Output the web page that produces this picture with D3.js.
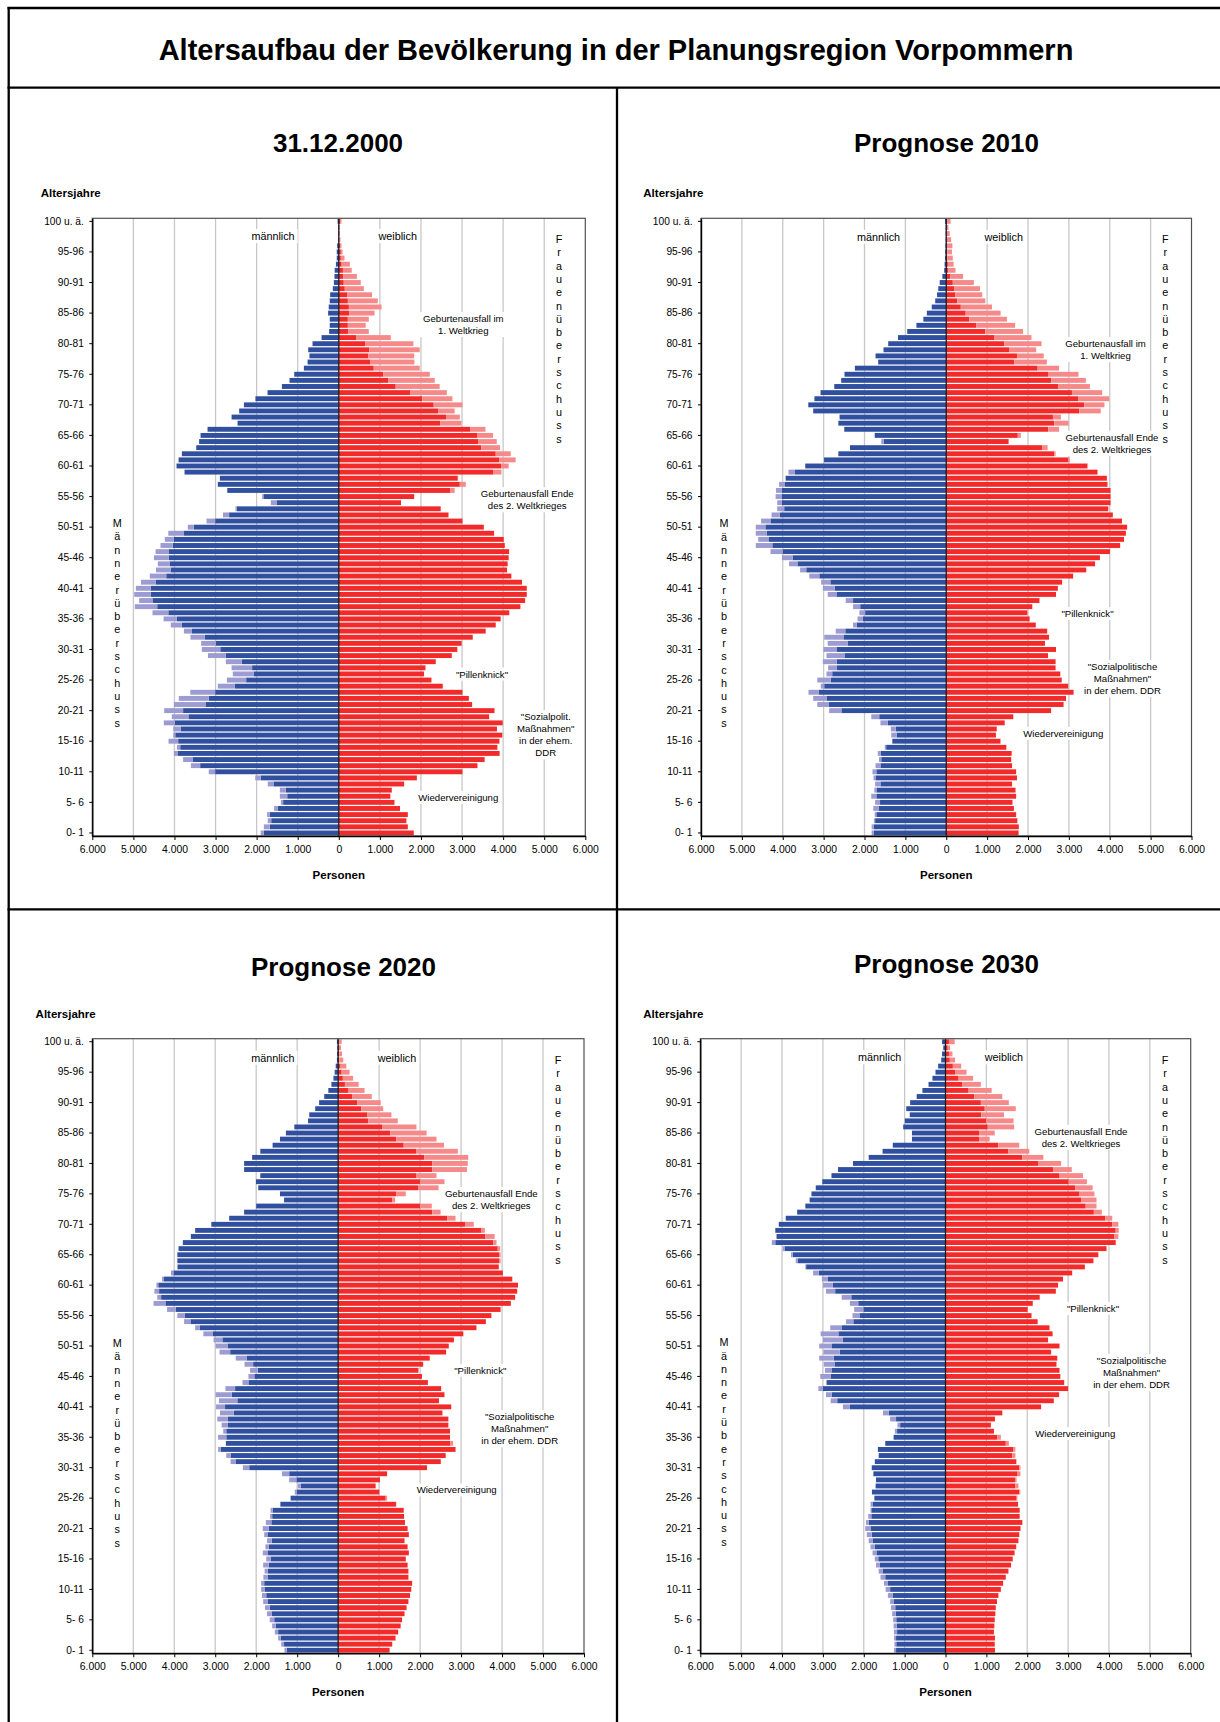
<!DOCTYPE html>
<html><head><meta charset="utf-8">
<script src="https://cdn.jsdelivr.net/npm/d3@7"></script>
<style>body{margin:0;background:#fff}svg{display:block}</style>
</head><body>
<svg id="c" width="1220" height="1722"></svg>
<script>
// ---------- DATA (index = age 0 … 100, "100" = 100 und älter) ----------
const ageTickValues = [100,95,90,85,80,75,70,65,60,55,50,45,40,35,30,25,20,15,10,5,0];
const ageLabels = ["100 u. ä.","95-96","90-91","85-86","80-81","75-76","70-71","65-66","60-61","55-56","50-51","45-46","40-41","35-36","30-31","25-26","20-21","15-16","10-11","5- 6","0- 1"];
const xTickValues = [-6000,-5000,-4000,-3000,-2000,-1000,0,1000,2000,3000,4000,5000,6000];
const xTickLabels = ["6.000","5.000","4.000","3.000","2.000","1.000","0","1.000","2.000","3.000","4.000","5.000","6.000"];

const male2000 = [1900,1825,1730,1745,1575,1410,1435,1435,1730,2035,3165,3600,3790,4015,3940,4145,4030,4030,4260,4065,4250,4015,3895,3615,2945,2725,2580,2610,2750,3185,3335,3350,3610,3770,4090,4265,4535,4965,4860,4980,4940,4815,4600,4450,4405,4500,4460,4340,4235,4150,3675,3220,2820,2515,1655,1865,2715,2945,2895,3755,3950,3900,3820,3470,3400,3365,3195,2465,2610,2425,2310,2030,1735,1385,1200,1085,850,760,715,745,640,420,235,220,220,260,245,220,210,145,120,105,100,70,50,50,40,15,10,10,30];
const female2000 = [1825,1680,1645,1680,1490,1355,1255,1290,1590,1900,3010,3375,3550,3915,3860,3910,3980,3850,3990,3660,3790,3245,3165,3010,2530,2255,2075,2110,2360,2750,2885,2990,3260,3575,3820,3940,4150,4420,4535,4575,4575,4460,4200,4095,4110,4135,4145,4040,4015,3780,3530,3010,2670,2480,1515,1835,2820,3090,2905,3960,4135,4305,4185,3925,3845,3755,3570,2985,2945,2820,3010,2765,2630,2455,2335,2215,1970,1840,1835,1970,1815,1265,730,655,730,870,1040,950,810,610,535,440,315,270,138,90,65,40,30,30,65];

const male2010 = [1825,1825,1770,1750,1785,1740,1835,1760,1740,1780,1805,1730,1645,1675,1505,1320,1345,1355,1610,1835,2865,3155,3255,3370,3070,3155,2930,2890,3020,2930,3005,2900,2985,2705,2280,2170,2125,2280,2460,2900,3020,3060,3350,3575,3845,4020,4300,4660,4600,4660,4660,4530,4275,4135,4135,4175,4165,4090,3930,3860,3450,2990,2640,2355,1590,1750,2495,2640,2610,3255,3375,3225,3075,2740,2570,2490,2235,1665,1730,1535,1420,1180,955,730,560,475,355,270,225,195,160,95,50,40,30,25,20,15,15,15,30];
const female2010 = [1770,1775,1740,1710,1655,1620,1710,1695,1610,1730,1710,1610,1590,1600,1470,1340,1215,1235,1430,1640,2565,2870,2930,3115,2985,2825,2790,2675,2675,2490,2685,2415,2515,2470,2190,2040,1985,2105,2280,2685,2730,2835,3105,3425,3640,3760,4005,4255,4350,4395,4425,4300,4075,3965,4020,4020,4020,3945,3935,3700,3470,3020,2675,2480,1525,1825,2760,2995,2805,3780,3870,3985,3815,3515,3415,3235,2760,2460,2385,2200,2330,2085,1880,1685,1485,1330,1120,955,880,825,675,410,225,180,160,140,150,120,85,55,105];

const male2020 = [1310,1390,1465,1545,1610,1670,1735,1785,1830,1860,1880,1880,1825,1795,1830,1755,1840,1775,1735,1805,1840,1765,1660,1650,1410,1160,1060,985,1195,1370,2325,2625,2730,2930,2740,2930,2805,2845,2950,2885,2980,2910,2990,2750,2335,2190,2150,2285,2500,2895,2990,3040,3290,3490,3760,3925,4175,4505,4415,4485,4435,4300,4080,3930,3925,3925,3895,3790,3595,3490,3095,2660,2295,2000,1320,1420,1950,2005,1900,2295,2295,2100,1900,1600,1420,1275,1070,735,705,560,465,340,240,165,115,85,60,30,25,20,30];
const female2020 = [1255,1320,1400,1465,1525,1560,1620,1670,1715,1755,1785,1805,1715,1715,1695,1650,1725,1695,1620,1725,1695,1630,1610,1600,1420,1195,1005,915,1020,1195,2170,2505,2625,2865,2805,2730,2730,2690,2690,2545,2760,2460,2595,2515,2190,2045,1960,2075,2235,2635,2700,2825,3055,3375,3605,3740,3965,4215,4320,4370,4390,4250,4020,3920,3965,3965,3955,3865,3820,3580,3310,2865,2500,2285,1390,1650,2450,2595,2400,3145,3165,3175,2920,2585,2400,2160,1910,1455,1300,1100,1040,820,645,500,365,280,200,125,95,70,85];

const male2030 = [1260,1250,1260,1260,1270,1280,1305,1335,1355,1410,1465,1505,1590,1635,1700,1730,1785,1835,1880,1925,1965,1945,1890,1835,1835,1740,1800,1710,1700,1765,1805,1730,1635,1655,1475,1270,1240,1175,1355,1530,2510,2810,2925,3110,2925,3065,2950,2980,3090,2990,3090,3000,3055,2820,2435,2275,2235,2340,2540,2925,3000,3025,3240,3430,3665,3780,3985,4250,4135,4165,4080,3910,3630,3430,3325,3280,3175,3015,2790,2630,2265,1880,1540,1290,820,820,1035,995,875,960,865,705,565,415,320,245,180,105,85,55,85];
const female2030 = [1210,1205,1210,1185,1195,1205,1220,1230,1260,1295,1355,1410,1475,1540,1605,1645,1690,1730,1785,1805,1835,1880,1815,1815,1775,1760,1830,1785,1740,1835,1835,1740,1710,1710,1550,1355,1185,1110,1210,1390,2340,2650,2780,3000,2905,2810,2790,2715,2735,2585,2790,2510,2620,2545,2255,2105,2010,2135,2305,2700,2755,2875,3100,3410,3620,3740,3940,4165,4230,4240,4230,4080,3825,3695,3695,3645,3600,3460,3365,3090,2830,2395,2050,1805,1080,1205,1680,1665,1430,1720,1550,1390,1130,865,675,515,385,235,170,115,225];

// ---------- LAYOUT ----------
const FONT = '"Liberation Sans", Arial, Helvetica, sans-serif';
const COL = {blue:"#30509f", lilac:"#9c9cd2", red:"#f22a2a", pink:"#f68a8a", grid:"#c8c8c8"};
const ages = d3.range(100, -1, -1);

const panels = [
  {title:"31.12.2000", tx:338, ty:152, male:male2000, female:female2000,
   x0:92.3, x1:585.3, y0:218.3, y1:836, altX:40.7, altY:196.5,
   mw:[273,397.7,236.3], fx:559, fy:239.3, mx:117.3, my:523.3,
   notes:[
     {x:463.3,y:318.6,l:["Geburtenausfall im","1. Weltkrieg"]},
     {x:527.2,y:493.8,l:["Geburtenausfall Ende","des 2. Weltkrieges"]},
     {x:482,y:674.2,l:['"Pillenknick"']},
     {x:545.7,y:716.8,l:['"Sozialpolit.','Maßnahmen"','in der ehem.','DDR']},
     {x:458.3,y:797.5,l:["Wiedervereinigung"]}]},
  {title:"Prognose 2010", tx:946.5, ty:152, male:male2010, female:female2010,
   x0:701, x1:1191.5, y0:218.3, y1:836, altX:643.3, altY:196.5,
   mw:[878.5,1003.7,237], fx:1165.3, fy:239.3, mx:724, my:523.5,
   notes:[
     {x:1105.5,y:343.7,l:["Geburtenausfall im","1. Weltkrieg"]},
     {x:1112,y:437.5,l:["Geburtenausfall Ende","des 2. Weltkrieges"]},
     {x:1087.5,y:613.7,l:['"Pillenknick"']},
     {x:1122.5,y:666.6,l:['"Sozialpolitische','Maßnahmen"','in der ehem. DDR']},
     {x:1063.3,y:733.6,l:["Wiedervereinigung"]}]},
  {title:"Prognose 2020", tx:343.5, ty:976, male:male2020, female:female2020,
   x0:92.3, x1:584, y0:1038.7, y1:1653.3, altX:35.6, altY:1018,
   mw:[272.8,397,1058], fx:558, fy:1060.3, mx:117.3, my:1343.3,
   notes:[
     {x:491.3,y:1193.7,l:["Geburtenausfall Ende","des 2. Weltkrieges"]},
     {x:480.3,y:1370.5,l:['"Pillenknick"']},
     {x:519.7,y:1416.8,l:['"Sozialpolitische','Maßnahmen"','in der ehem. DDR']},
     {x:456.7,y:1490,l:["Wiedervereinigung"]}]},
  {title:"Prognose 2030", tx:946.5, ty:973, male:male2030, female:female2030,
   x0:700.3, x1:1190.7, y0:1038.7, y1:1653.3, altX:643.3, altY:1018,
   mw:[879.7,1003.9,1057.5], fx:1165, fy:1060.3, mx:724, my:1342.5,
   notes:[
     {x:1081,y:1131.5,l:["Geburtenausfall Ende","des 2. Weltkrieges"]},
     {x:1093,y:1308.5,l:['"Pillenknick"']},
     {x:1131.6,y:1360.7,l:['"Sozialpolitische','Maßnahmen"','in der ehem. DDR']},
     {x:1075.3,y:1433.6,l:["Wiedervereinigung"]}]}
];

const svg = d3.select("#c");
svg.append("rect").attr("width",1220).attr("height",1722).attr("fill","#fff");

// main title
svg.append("text").attr("x",616).attr("y",59.5).attr("text-anchor","middle")
  .attr("font-family",FONT).attr("font-weight","bold").attr("font-size",29)
  .text("Altersaufbau der Bevölkerung in der Planungsregion Vorpommern");

function boxedText(g, x, y, lines, size, spacing){
  const grp = g.append("g");
  const bg = grp.append("rect").attr("fill","#fff");
  const t = grp.append("text").attr("font-family",FONT).attr("font-size",size)
    .attr("text-anchor","middle").attr("fill","#000");
  lines.forEach((s,i)=>{
    t.append("tspan").attr("x",x).attr("y",y + i*spacing).attr("dy","0.35em").text(s);
  });
  const bb = t.node().getBBox();
  bg.attr("x",bb.x-3).attr("y",bb.y-1).attr("width",bb.width+6).attr("height",bb.height+2);
}

panels.forEach(p=>{
  const g = svg.append("g");
  const x = d3.scaleLinear().domain([-6000,6000]).range([p.x0,p.x1]);
  const y = d3.scaleBand().domain(ages).range([p.y0,p.y1]).paddingInner(0.2).paddingOuter(0.1);
  const rows = ages.map(a=>({a, m:p.male[a], f:p.female[a], d:Math.min(p.male[a],p.female[a])}));

  // panel title & axis title
  g.append("text").attr("x",p.tx).attr("y",p.ty).attr("text-anchor","middle")
    .attr("font-family",FONT).attr("font-weight","bold").attr("font-size",26).text(p.title);
  g.append("text").attr("x",p.altX).attr("y",p.altY).attr("font-family",FONT)
    .attr("font-weight","bold").attr("font-size",11.5).text("Altersjahre");

  // gridlines
  g.append("g").selectAll("line").data(xTickValues.filter(v=>v!==0 && Math.abs(v)!==6000)).join("line")
    .attr("x1",d=>x(d)).attr("x2",d=>x(d)).attr("y1",p.y0).attr("y2",p.y1)
    .attr("stroke",COL.grid).attr("stroke-width",1.3);

  // labels with white boxes (hide gridlines)
  boxedText(g, p.mw[0], p.mw[1]>0?p.mw[2]:0, ["männlich"], 10.8, 12);
  boxedText(g, p.mw[1], p.mw[2], ["weiblich"], 10.8, 12);
  p.notes.forEach(n=>boxedText(g, n.x, n.y, n.l, 9.6, 12.1));

  // bars
  const bars = g.append("g");
  bars.selectAll(".mdark").data(rows).join("rect")
    .attr("x",d=>x(-d.d)).attr("width",d=>x(0)-x(-d.d))
    .attr("y",d=>y(d.a)).attr("height",y.bandwidth()).attr("fill",COL.blue);
  bars.selectAll(".mlight").data(rows.filter(d=>d.m>d.f)).join("rect")
    .attr("x",d=>x(-d.m)).attr("width",d=>x(-d.f)-x(-d.m))
    .attr("y",d=>y(d.a)).attr("height",y.bandwidth()).attr("fill",COL.lilac);
  bars.selectAll(".fdark").data(rows).join("rect")
    .attr("x",x(0)).attr("width",d=>x(d.d)-x(0))
    .attr("y",d=>y(d.a)).attr("height",y.bandwidth()).attr("fill",COL.red);
  bars.selectAll(".flight").data(rows.filter(d=>d.f>d.m)).join("rect")
    .attr("x",d=>x(d.m)).attr("width",d=>x(d.f)-x(d.m))
    .attr("y",d=>y(d.a)).attr("height",y.bandwidth()).attr("fill",COL.pink);

  // center line
  g.append("line").attr("x1",x(0)).attr("x2",x(0)).attr("y1",p.y0).attr("y2",p.y1)
    .attr("stroke","#1a1a1a").attr("stroke-width",1.3);

  // plot frame
  g.append("rect").attr("x",p.x0).attr("y",p.y0).attr("width",p.x1-p.x0).attr("height",p.y1-p.y0)
    .attr("fill","none").attr("stroke","#505050").attr("stroke-width",1.2);

  // axes
  const ax = g.append("g").attr("transform",`translate(0,${p.y1})`)
    .call(d3.axisBottom(x).tickValues(xTickValues).tickFormat((d,i)=>xTickLabels[i])
      .tickSize(4).tickPadding(5.5).tickSizeOuter(0));
  ax.select(".domain").attr("stroke","#000").attr("stroke-width",1.6);
  ax.selectAll(".tick line").attr("stroke","#000");
  ax.selectAll("text").attr("font-family",FONT).attr("font-size",10.4).attr("fill","#000");

  const ay = g.append("g").attr("transform",`translate(${p.x0},0)`)
    .call(d3.axisLeft(y).tickValues(ageTickValues).tickFormat((d,i)=>ageLabels[i])
      .tickSize(3).tickPadding(5.5).tickSizeOuter(0));
  ay.select(".domain").attr("stroke","#000").attr("stroke-width",1.4);
  ay.selectAll(".tick line").attr("stroke","#000");
  ay.selectAll("text").attr("font-family",FONT).attr("font-size",10.2).attr("fill","#000");

  g.append("text").attr("x",x(0)).attr("y",p.y1+39).attr("dy","0.35em").attr("text-anchor","middle")
    .attr("font-family",FONT).attr("font-weight","bold").attr("font-size",11.5).text("Personen");

  // vertical words
  const vt = (word, cx, cy)=>{
    g.append("g").selectAll("text").data(Array.from(word)).join("text")
      .attr("x",cx).attr("y",(d,i)=>cy+i*13.3).attr("dy","0.35em").attr("text-anchor","middle")
      .attr("font-family",FONT).attr("font-size",10.8).text(d=>d);
  };
  vt("Frauenüberschuss", p.fx, p.fy);
  vt("Männerüberschuss", p.mx, p.my);
});

// outer frame and dividers
const fr = svg.append("g").attr("stroke","#000").attr("stroke-width",2.3);
fr.append("line").attr("x1",8.7).attr("x2",8.7).attr("y1",7).attr("y2",1722);
fr.append("line").attr("x1",7.5).attr("x2",1220).attr("y1",8).attr("y2",8);
fr.append("line").attr("x1",7.5).attr("x2",1220).attr("y1",87.7).attr("y2",87.7);
fr.append("line").attr("x1",617).attr("x2",617).attr("y1",87.7).attr("y2",1722);
fr.append("line").attr("x1",7.5).attr("x2",1220).attr("y1",909.3).attr("y2",909.3);
</script>
</body></html>
